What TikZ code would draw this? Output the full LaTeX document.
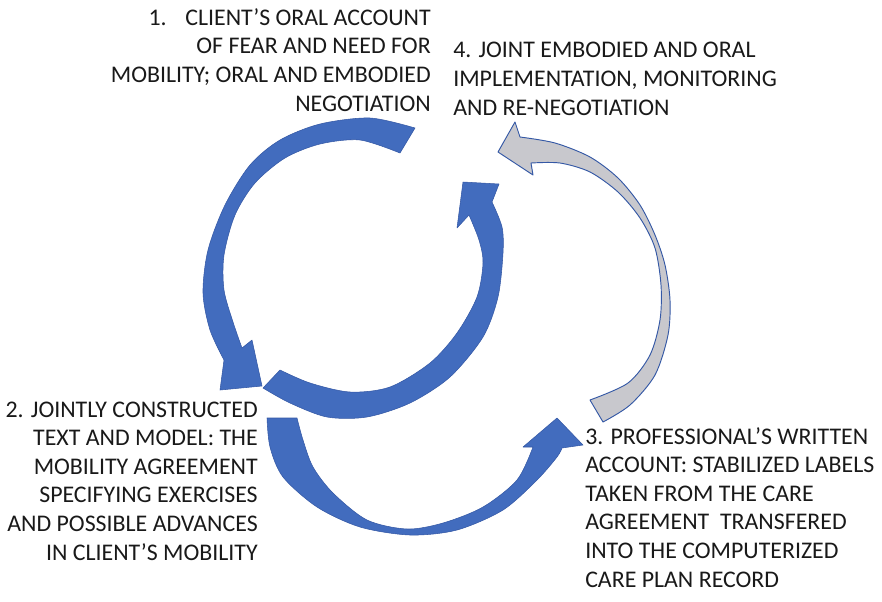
\documentclass[tikz,border=0pt]{standalone}
\usepackage{fontspec}
\setmainfont{Carlito}
\usepackage{tikz}
\usetikzlibrary{positioning}
\definecolor{arrowblue}{RGB}{66,108,190}
\definecolor{arrowedge}{RGB}{52,88,165}
\definecolor{arrowgray}{RGB}{200,200,205}
\def\arrowone{plot[smooth] coordinates {(415,128) (370,118) (320,124) (280,140) (250,165) (225,205) (208,250) (203,293) (210,330) (224,360)}
  -- (220,390) -- (262,386) -- (252,340) -- (242,348)
  -- plot[smooth] coordinates {(242,348) (233,322) (224,290) (224,255) (235,215) (255,183) (285,158) (320,144) (360,140) (400,153)} -- cycle}
\def\arrowtwo{plot[smooth] coordinates {(263,388) (290,403) (327,417) (367,417) (410,403) (450,377) (483,337) (498,297) (503,253) (502,227) (492,202)}
  -- (499,184) -- (463,182) -- (457,228) -- (469,215)
  -- plot[smooth] coordinates {(469,215) (479,240) (483,263) (477,297) (457,333) (430,363) (390,387) (350,392) (310,383) (280,370)} -- cycle}
\def\arrowthree{plot[smooth] coordinates {(267,418) (270,447) (283,477) (317,507) (360,527) (410,535) (457,530) (503,510) (537,480) (557,457) (562,448)}
  -- (583,445) -- (557,418) -- (523,447) -- (533,447)
  -- plot[smooth] coordinates {(533,447) (517,480) (483,507) (443,523) (407,529) (367,520) (333,493) (313,467) (303,440) (297,418)} -- cycle}
\def\arrowfour{plot[smooth] coordinates {(603,422) (630,405) (655,375) (668,335) (670,300) (665,265) (655,235) (640,205) (618,178) (590,157) (555,143) (520,137)}
  -- (515,122) -- (498,152) -- (533,175) -- (531,163)
  -- plot[smooth] coordinates {(531,163) (560,163) (590,172) (618,192) (640,218) (655,248) (661,285) (660,320) (650,355) (628,383) (590,400)} -- cycle}

\begin{document}
\begin{tikzpicture}[x=0.75pt,y=-0.75pt,
    lbl/.style={inner sep=0pt,text=black!90,font=\fontsize{17.9}{21.4}\selectfont},
    bluearrow/.style={fill=arrowblue,draw=arrowedge,line width=0.4pt,line join=round},
    grayarrow/.style={fill=arrowgray,draw=arrowedge,line width=0.7pt,line join=round}]
  \useasboundingbox (0,0) rectangle (882,601);
      % the four curved arrows
      \path[bluearrow] \arrowone;
      \path[bluearrow] \arrowtwo;
      \path[bluearrow] \arrowthree;
      \path[grayarrow] \arrowfour;
      % the four steps (anchored at the baseline of their last line)
      \node[lbl,align=right,anchor=base east] (step1) at (431,111)
        {1.\hspace{14pt}CLIENT’S ORAL ACCOUNT\\OF FEAR AND NEED FOR\\MOBILITY; ORAL AND EMBODIED\\NEGOTIATION};
      \node[lbl,align=right,anchor=base east] (step2) at (258,560)
        {2. JOINTLY CONSTRUCTED\\TEXT AND MODEL: THE\\MOBILITY AGREEMENT\\SPECIFYING EXERCISES\\AND POSSIBLE ADVANCES\\IN CLIENT’S MOBILITY};
      \node[lbl,align=left,anchor=base west] (step3) at (585,587)
        {3. PROFESSIONAL’S WRITTEN\\ACCOUNT: STABILIZED LABELS\\TAKEN FROM THE CARE\\AGREEMENT\ \ TRANSFERED\\INTO THE COMPUTERIZED\\CARE PLAN RECORD};
      \node[lbl,align=left,anchor=base west] (step4) at (453,115)
        {4. JOINT EMBODIED AND ORAL\\IMPLEMENTATION, MONITORING\\AND RE-NEGOTIATION};
\end{tikzpicture}
\end{document}
